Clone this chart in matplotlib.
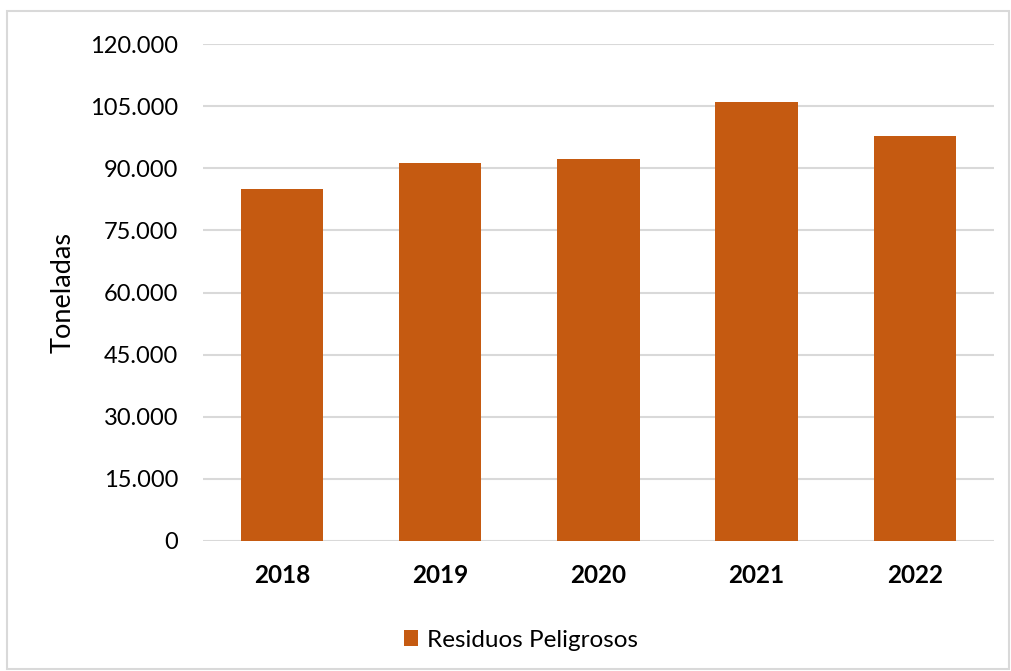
import matplotlib.pyplot as plt
from matplotlib.patches import Rectangle
from matplotlib.ticker import FuncFormatter

# datos
years = ["2018", "2019", "2020", "2021", "2022"]
toneladas = [85000, 91200, 92200, 106000, 97800]
y_ticks = [0, 15000, 30000, 45000, 60000, 75000, 90000, 105000, 120000]

plt.rcParams['font.family'] = ['Lato', 'DejaVu Sans']

fig = plt.figure(figsize=(10.12, 6.71), dpi=100)
ax = fig.add_axes([0.2006, 0.194, 0.7814, 0.74])

# marco gris alrededor del grafico
fig.patches.append(Rectangle((0.007, 0.003), 0.99, 0.98, transform=fig.transFigure,
                             fill=False, edgecolor='#D9D9D9', linewidth=1.5))

x = range(len(years))
ax.bar(x, toneladas, width=0.52, color='#C55A11', label='Residuos Peligrosos', zorder=3)

ax.set_ylim(0, 120000)
ax.set_xlim(-0.5, len(years) - 0.5)
ax.set_yticks(y_ticks)
ax.yaxis.set_major_formatter(FuncFormatter(lambda v, p: "{:,.0f}".format(v).replace(",", ".")))
ax.grid(axis='y', color='#D9D9D9', linewidth=1.5, zorder=0)
ax.set_xticks(list(x))
ax.set_xticklabels(years, fontweight='bold', fontsize=17.5)
ax.tick_params(axis='y', labelsize=17, length=0, pad=18)
ax.tick_params(axis='x', length=0, pad=17)
for s in ax.spines.values():
    s.set_visible(False)
ax.set_ylabel("Toneladas", fontsize=19.5, labelpad=10)

ax.legend(loc='upper center', bbox_to_anchor=(0.402, -0.135), frameon=False, fontsize=17.5,
          handlelength=0.6, handleheight=0.6, handletextpad=0.35)

fig.savefig("out.png", dpi=100)
